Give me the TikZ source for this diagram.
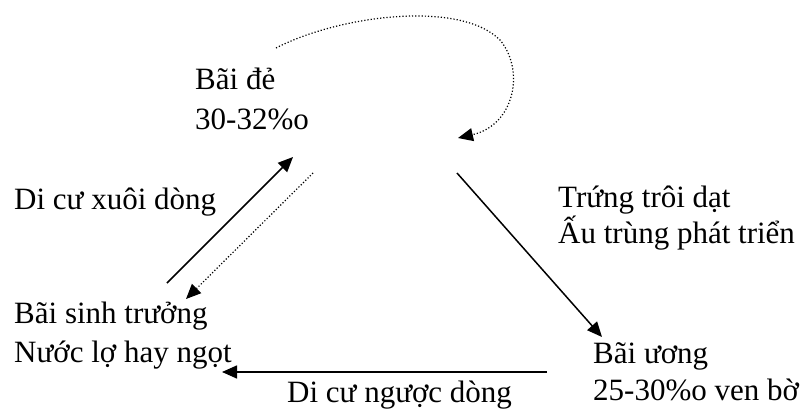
\documentclass[tikz,border=0pt]{standalone}
\usepackage{fontspec}
\setmainfont{Liberation Serif}
\usetikzlibrary{arrows.meta}
\begin{document}
\begin{tikzpicture}[x=1pt,y=-1pt,
  lbl/.style={anchor=base west,inner sep=0pt,font=\fontsize{31}{38}\selectfont},
  solidarr/.style={line width=1.5pt,-{Triangle[length=15pt,width=13pt]}},
  dotarr/.style={line width=1.2pt,dotted,-{Triangle[length=15pt,width=13pt]}}]
\useasboundingbox (0,0) rectangle (801,412);
% labels
\node[lbl] (de1) at (195,90) {Bãi đẻ};
\node[lbl] (de2) at (195,129) {30-32\%o};
\node[lbl] (xuoi) at (14,209) {Di cư xuôi dòng};
\node[lbl] (st1) at (14,323) {Bãi sinh trưởng};
\node[lbl] (st2) at (14,362) {Nước lợ hay ngọt};
\node[lbl] (nguoc) at (287,402) {Di cư ngược dòng};
\node[lbl] (tr1) at (558,207) {Trứng trôi dạt};
\node[lbl] (tr2) at (558,243) {Ấu trùng phát triển};
\node[lbl] (uo1) at (593,363) {Bãi ương};
\node[lbl] (uo2) at (593,400) {25-30\%o ven bờ};
% connector ends
\coordinate (loopS) at (276,48);
\coordinate (loopM) at (500,40);
\coordinate (loopE) at (458,138);
\coordinate (upS) at (167,283);
\coordinate (upE) at (293,157);
\coordinate (dnS) at (313,173);
\coordinate (dnE) at (186,299);
\coordinate (diagS) at (457,173);
\coordinate (diagE) at (602,337);
\coordinate (horS) at (547,372);
\coordinate (horE) at (222,372);
% connectors
\draw[dotarr] (loopS) .. controls (340,15) and (460,0) .. (loopM)
  .. controls (525,70) and (515,125) .. (loopE);
\draw[solidarr] (upS) -- (upE);
\draw[dotarr] (dnS) -- (dnE);
\draw[solidarr] (diagS) -- (diagE);
\draw[solidarr] (horS) -- (horE);
\end{tikzpicture}
\end{document}
